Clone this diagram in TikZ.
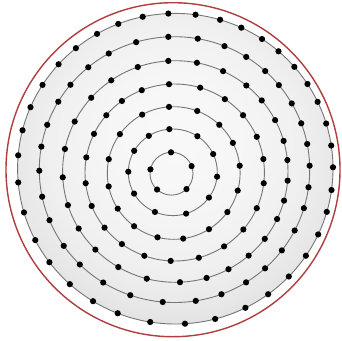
\documentclass[tikz,border=0pt]{standalone}
\definecolor{rim}{RGB}{176,62,62}
\definecolor{ringc}{RGB}{118,118,118}
\definecolor{sA}{gray}{0.975}
\definecolor{sB}{gray}{0.965}
\definecolor{sC}{gray}{0.94}
\definecolor{sD}{gray}{0.905}
\definecolor{sE}{gray}{0.85}
\definecolor{sF}{gray}{0.82}
\pgfdeclareradialshading{discshade}{\pgfpoint{0bp}{6bp}}{color(0bp)=(sA); color(10bp)=(sB); color(20bp)=(sC); color(26bp)=(sD); color(31bp)=(sE); color(50bp)=(sF)}
\tikzset{
  ringline/.style={draw=ringc, line width=0.9pt},
  dotmark/.style={fill=black},
  rimline/.style={draw=rim, line width=1.4pt}
}
\newcommand\ringdots[5]{%
  \foreach \px/\py in {#5}{%
    \pgfmathsetmacro\ang{atan2((\py-#2)/#4,(\px-#1)/#3)}%
    \fill[dotmark] ({#1+#3*cos(\ang)},{#2+#4*sin(\ang)}) circle[radius=3.1pt];
  }%
}
\newcommand\ringline[4]{\draw[ringline] (#1,#2) ellipse [x radius=#3pt, y radius=#4pt];}
\begin{document}
\begin{tikzpicture}[x=1pt,y=-1pt]
\useasboundingbox (0,0) rectangle (342,340);
\fill[white] (0,0) rectangle (342,340);
% shaded disc
\shade[shading=discshade] (175.3,168.7) ellipse [x radius=157.7pt, y radius=155.3pt];
% rings
\ringline{171.5}{173.7}{21.5}{21.4}
\ringline{172.8}{172.3}{44.5}{43.3}
\ringline{173.7}{173.0}{66.4}{66.3}
\ringline{174.7}{172.5}{89.7}{88.5}
\ringline{175.3}{171.5}{112.7}{110.8}
\ringline{174.5}{169.6}{135.2}{132.9}
\ringline{175.3}{168.7}{157.7}{155.3}
% dots
\ringdots{171.5}{173.7}{21.5}{21.4}{171/152.3,192.7/165.7,186.7/189.3,157.3/189.3,150/169.3}
\ringdots{172.8}{172.3}{44.5}{43.3}{169.3/129,197.7/135.7,213.3/154,217.3/176.7,210/198.3,186.7/215.5,154/214,133.3/194,128.3/171.7,134/150.7,148.7/135.7}
\ringdots{173.7}{173.0}{66.4}{66.3}{169/106.7,196.7/112.3,220/124,233.3/142.7,240/165.7,239.3/191,228.3/212.7,209.5/230,183.3/239.3,157.3/238.3,133.3/227.3,116.7/209.3,107.3/186.7,108/159,119/133.5,142/114.3}
\ringdots{174.7}{172.5}{89.7}{88.5}{169/84,200/88.3,225/99,243.3/115,257/136.7,263.7/159,264.3/183.3,257/208.3,244/230,224.3/246.7,199/258.3,170.7/261,144/256.7,121.7/244.3,105/227.3,91.7/206,85/183.3,85.7/157.3,94.3/134,106/115,121.7/100.7,141.7/90}
\ringdots{175.3}{171.5}{112.7}{110.8}{168.3/60.7,197/62.5,223.3/70.7,246.7/85,261/101,275.3/120,284.3/140.7,287.7/160,288/180.7,284.3/200.7,277/219,265/239,249/256,228.5/269.2,206.7/278.3,180/282.3,146.7/279,118.5/266.7,96/249,79/228.3,68.3/205,62.7/177.3,65/149,75/121.7,90.7/97.3,111/80,137.3/65.7}
\ringdots{174.5}{169.6}{135.2}{132.9}{168.3/36.7,197.7/39,224/47.3,246/57.3,265.5/70.7,279/85,292/103.3,301.3/123.3,307/144,309.7/165.7,308.7/187.3,304.3/208.3,295.7/231,282.3/250.7,265.7/269,246.7/283.3,221.7/295,196/302.3,162.7/302.5,130/296,102.7/283.3,79.3/265,65/245,50/220,42.3/196.7,39.3/170.7,41.7/146.7,47.7/125,58.3/101.7,70.7/85,88.3/67.3,108.3/52.7,136/41.7}
\ringdots{175.3}{168.7}{157.7}{155.3}{168.3/13.3,195.5/15,220/20,241.5/27.3,262.5/38.3,279/50.7,294.5/66.7,307.5/84,318/101.7,326.3/123.5,331.3/145.5,332.7/167.3,331.3/190,326.2/211.7,318.3/234.5,306/255.8,289/276.7,268/294,245.5/308,215.3/319.5,185/323.7,150/323.3,117.3/314.2,92.7/301.7,69.3/284.7,49.3/262.3,35.5/240,23/212.7,17.8/182.5,18.3/155.3,22.7/130.3,30.7/107.3,42.7/85,58.3/64,76/48.3,97.3/34.3,118.3/24,142.7/16.7}
% rim
\draw[rimline] (173,169.7) circle[radius=167pt];
\end{tikzpicture}
\end{document}
